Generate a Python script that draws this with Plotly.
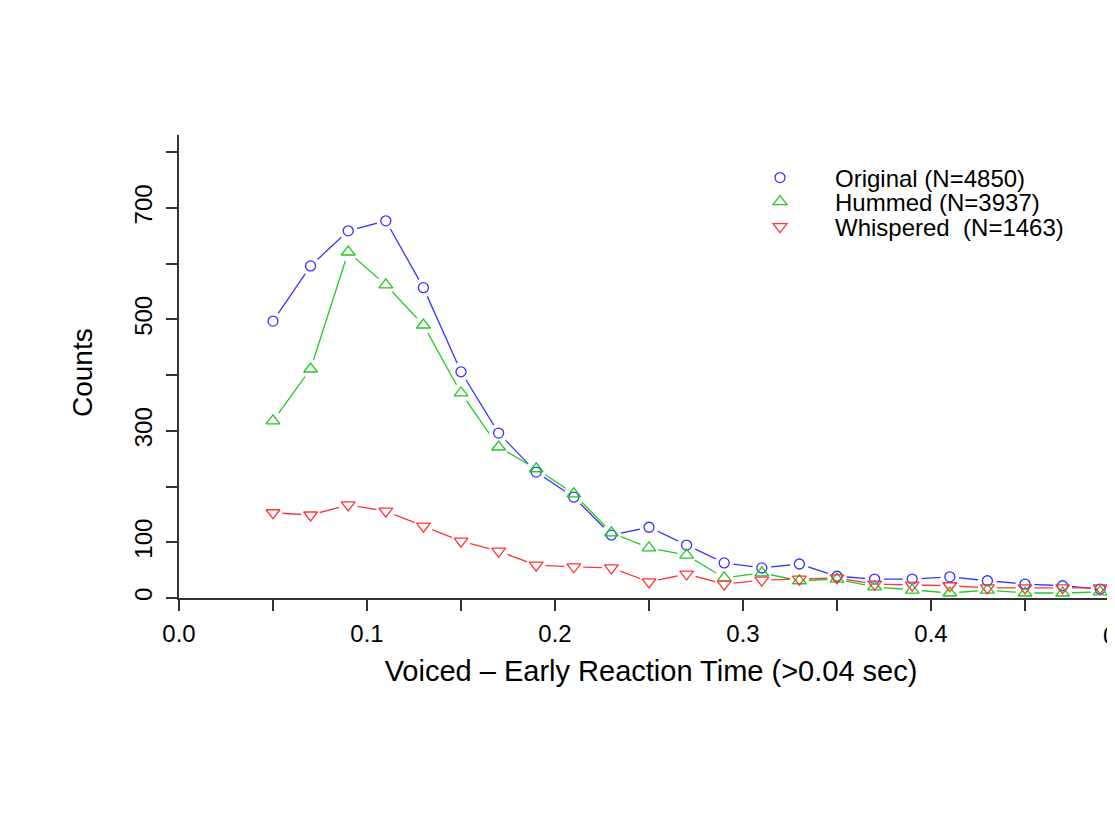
import plotly.graph_objects as go

# ---- data ----
x_vals = [0.05, 0.07, 0.09, 0.11, 0.13, 0.15, 0.17, 0.19, 0.21, 0.23, 0.25, 0.27,
          0.29, 0.31, 0.33, 0.35, 0.37, 0.39, 0.41, 0.43, 0.45, 0.47, 0.49]
original = [497, 596, 659, 677, 557, 406, 296, 226, 181, 113, 127, 95,
            63, 54, 61, 39, 34, 34, 38, 31, 25, 22, 16]
hummed = [318, 411, 621, 562, 490, 368, 271, 232, 187, 117, 90, 77,
          36, 45, 31, 34, 20, 14, 9, 14, 9, 9, 11]
whispered = [153, 149, 167, 156, 129, 102, 84, 59, 56, 54, 29, 43,
             25, 32, 34, 36, 25, 23, 22, 18, 18, 18, 18]

series_names = ["Original (N=4850)", "Hummed (N=3937)", "Whispered\u00a0\u00a0(N=1463)"]
series_values = [original, hummed, whispered]
series_colors = ["#3434ff", "#22c822", "#ff3434"]
series_symbols = ["circle-open", "triangle-up-open", "triangle-down-open"]
series_sizes = [10, 12, 12]

x_tickvals = [0.0, 0.05, 0.1, 0.15, 0.2, 0.25, 0.3, 0.35, 0.4, 0.45]
x_ticktext = ["0.0", "", "0.1", "", "0.2", "", "0.3", "", "0.4", ""]
y_tickvals = [0, 100, 200, 300, 400, 500, 600, 700, 800]
y_ticktext = ["0", "100", "", "300", "", "500", "", "700", ""]

FONT = "Liberation Sans, Arial, Helvetica, sans-serif"

# page offset (body margin) -> work in window pixels
OFF = 8
W, H = 1115, 838
L = 179 - OFF
T = 135 - OFF
B = H - (598 - OFF)
R = 0
plot_w = W - L - R
plot_h = H - T - B
x_range = [0.0, plot_w / 1880.0]
y_range = [0.0, 831.0]

fig = go.Figure()

# lines
for vals, col in zip(series_values, series_colors):
    fig.add_trace(go.Scatter(x=x_vals, y=vals, mode="lines",
                             line=dict(color=col, width=1.3),
                             showlegend=False, hoverinfo="skip"))
# white halos (gaps like R type="b")
for vals in series_values:
    fig.add_trace(go.Scatter(x=x_vals, y=vals, mode="markers",
                             marker=dict(symbol="circle", size=19, color="white",
                                         line=dict(width=0)),
                             showlegend=False, hoverinfo="skip"))
# markers
legend_ids = ["legend", "legend2", "legend3"]
for name, vals, col, sym, sz, lg in zip(series_names, series_values, series_colors,
                                         series_symbols, series_sizes, legend_ids):
    fig.add_trace(go.Scatter(x=x_vals, y=vals, mode="markers", name=name,
                             marker=dict(symbol=sym, size=sz, color=col,
                                         line=dict(color=col, width=1.3)),
                             legend=lg))

def py_to_paper(py):
    return (H - B - (py - OFF)) / plot_h

def px_to_paper(px):
    return (px - OFF - L) / plot_w

legend_common = dict(x=px_to_paper(725), xanchor="left", yanchor="middle",
                     bgcolor="rgba(0,0,0,0)", borderwidth=0,
                     font=dict(family=FONT, size=24, color="black"),
                     itemwidth=100)

axis_common = dict(showgrid=False, zeroline=False, showline=True,
                   linecolor="#333333", linewidth=1.5,
                   ticks="outside", tickcolor="#333333", tickwidth=1.5, ticklen=11,
                   tickfont=dict(family=FONT, size=24, color="black"))

fig.update_layout(
    width=W, height=H,
    margin=dict(l=L, r=R, t=T, b=B, autoexpand=False),
    paper_bgcolor="white", plot_bgcolor="white",
    font=dict(family=FONT, color="black"),
    xaxis=dict(range=x_range, tickmode="array", tickvals=x_tickvals,
               ticktext=x_ticktext, ticklabelstandoff=2,
               title=dict(text="Voiced \u2013 Early Reaction Time (>0.04 sec)",
                          font=dict(family=FONT, size=29), standoff=15),
               **axis_common),
    yaxis=dict(range=y_range, tickmode="array", tickvals=y_tickvals,
               ticktext=y_ticktext, tickangle=-90, ticklabelstandoff=5,
               **axis_common),
    legend=dict(y=py_to_paper(178), **legend_common),
    legend2=dict(y=py_to_paper(202), **legend_common),
    legend3=dict(y=py_to_paper(227), **legend_common),
    annotations=[
        dict(text="0.5", xref="paper", yref="paper",
             x=px_to_paper(1119), y=0, xanchor="center", yanchor="top",
             yshift=-22, showarrow=False,
             font=dict(family=FONT, size=24, color="black")),
        dict(text="Counts", xref="paper", yref="paper",
             x=px_to_paper(82), y=py_to_paper(373), xanchor="center", yanchor="middle",
             textangle=-90, showarrow=False,
             font=dict(family=FONT, size=28, color="black")),
    ],
)

fig.write_html("out.html")
